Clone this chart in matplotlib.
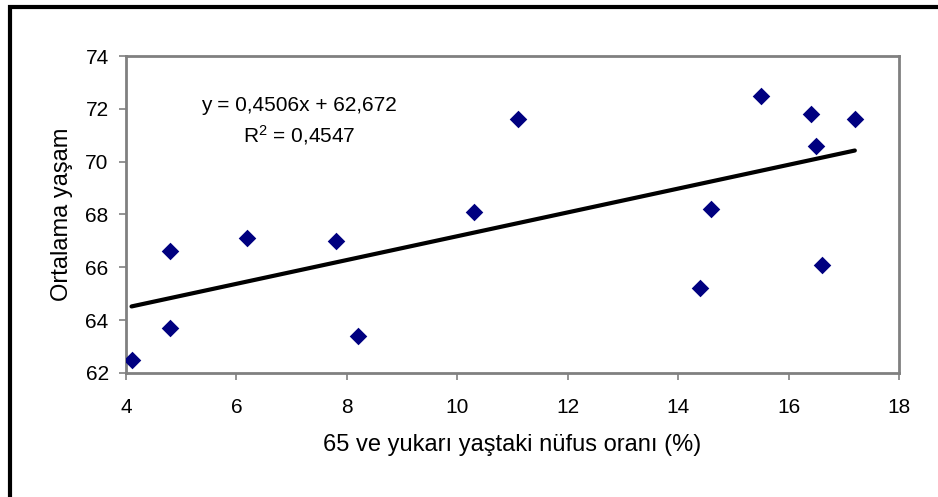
import matplotlib.pyplot as plt
from matplotlib.patches import Rectangle
import numpy as np

plt.rcParams['font.family'] = ['Liberation Sans', 'DejaVu Sans']

# 65+ population share (%) vs. life expectancy
x_vals = [4.1, 4.8, 4.8, 6.2, 7.8, 8.2, 10.3, 11.1, 14.4, 14.6, 15.5, 16.4, 16.5, 16.6, 17.2]
y_vals = [62.5, 63.7, 66.6, 67.1, 67.0, 63.4, 68.1, 71.6, 65.2, 68.2, 72.5, 71.8, 70.6, 66.1, 71.6]

# trendline as printed on the chart
slope = 0.4506
intercept = 62.672
r_squared = 0.4547

x_ticks = [4, 6, 8, 10, 12, 14, 16, 18]
y_ticks = [62, 64, 66, 68, 70, 72, 74]

fig = plt.figure(figsize=(9.38, 4.97), dpi=100)
ax = fig.add_axes([126 / 938, 1 - 373 / 497, (899 - 126) / 938, (373 - 56) / 497])

ax.scatter(x_vals, y_vals, marker='D', s=80, color='#000080', zorder=3, linewidths=0)

xs = np.array([min(x_vals), max(x_vals)])
ax.plot(xs, slope * xs + intercept, color='black', linewidth=3, solid_capstyle='round', zorder=2)

ax.set_xlim(4, 18)
ax.set_ylim(62, 74)
ax.set_xticks(x_ticks)
ax.set_yticks(y_ticks)

for s in ax.spines.values():
    s.set_color('#808080')
    s.set_linewidth(2)
ax.tick_params(direction='out', length=5, width=1.2, color='#808080', labelsize=15)
ax.tick_params(axis='x', pad=13)
ax.tick_params(axis='y', pad=7.5)

ax.set_xlabel('65 ve yukarı yaştaki nüfus oranı (%)', fontsize=17, labelpad=12)
ax.set_ylabel('Ortalama yaşam', fontsize=17, labelpad=9)

ax.text(0.224, 0.845, f'y = {slope:.4f}x + {intercept:.3f}'.replace('.', ','),
        transform=ax.transAxes, ha='center', va='center', fontsize=15)
ax.text(0.224, 0.751, '$\\mathregular{R^2}$ = ' + f'{r_squared:.4f}'.replace('.', ','),
        transform=ax.transAxes, ha='center', va='center', fontsize=15)

# outer chart frame
fig.patches.append(Rectangle((9.5 / 938, -0.02), 1.1, 1 - 4.5 / 497 + 0.02 - (2.5 / 497),
                             transform=fig.transFigure, fill=False, edgecolor='black',
                             linewidth=3, clip_on=False))

fig.savefig('out.png', dpi=100)
